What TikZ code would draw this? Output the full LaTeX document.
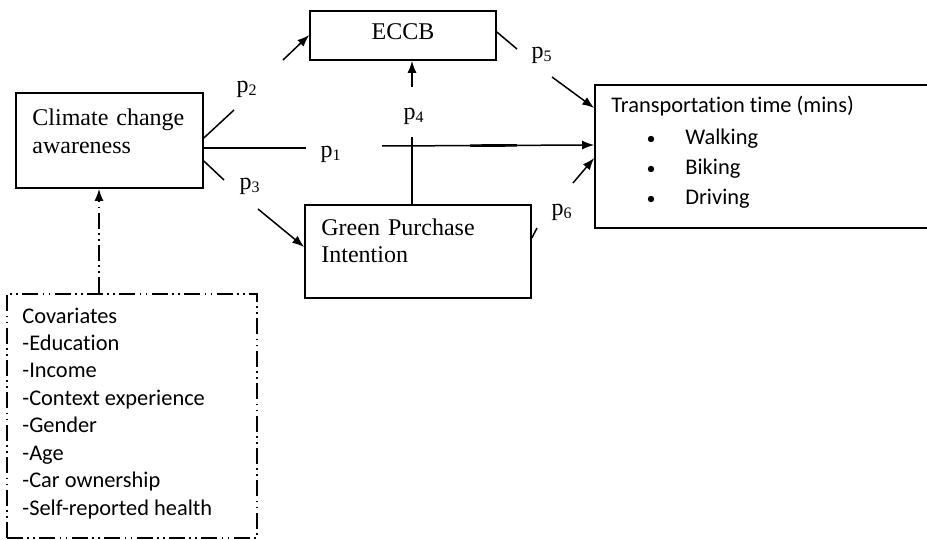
\documentclass[tikz,border=0pt]{standalone}
\usepackage{fontspec}
\setmainfont{Liberation Serif}
\newfontfamily\calibri[Ligatures=NoCommon]{Carlito}
\usetikzlibrary{arrows.meta,positioning,fit}

\begin{document}
\begin{tikzpicture}[x=0.5pt, y=-0.5pt,
  box/.style={draw, line width=0.8pt, inner sep=0pt},
  serif/.style={font=\fontsize{12}{13.8}\selectfont, inner sep=0pt},
  sans/.style={font=\calibri\fontsize{11.2}{13.7}\selectfont, inner sep=0pt},
  bullet/.style={circle, fill, inner sep=0pt, minimum size=3.2pt},
  link/.style={line width=0.75pt},
  arr/.style={link, -{Latex[length=6pt, width=4.5pt]}},
  dashdotdot/.style={dash pattern=on 8pt off 2.2pt on 0.8pt off 2.2pt on 0.8pt off 2.2pt}]

% Canvas
\useasboundingbox (0,0) rectangle (927,540);
\clip (0,0) rectangle (927,540);

% Boxes
\node[box, fit={(16,93) (203,188)}] (cca) {};
\node[box, fit={(310,11) (496,60)}] (eccb) {};
\node[box, fit={(305,205) (531,298)}] (gpi) {};
\node[box, fit={(595,85) (940,228)}] (trans) {};
\node[box, line width=0.6pt, dashdotdot, fit={(7,294) (257,538)}] (cov) {};

% Box texts
\node[serif, anchor=base] (eccbtext) at (403,40) {ECCB};
\node[serif, text width=4cm, align=left, anchor=base west] (ccatext) at (32,126) {Climate change\\awareness};
\node[serif, text width=4cm, align=left, anchor=base west] (gpitext) at (321,235) {Green Purchase\\Intention};
\node[sans, anchor=base west] (transtitle) at (611,113) {Transportation time (mins)};
\foreach \y/\mode in {145/Walking, 175/Biking, 205/Driving} {
  \node[bullet] (dot\mode) at (651,\y-6) {};
  \node[sans, anchor=base west] (\mode) at (685,\y) {\mode};
}
\foreach \t [count=\i from 0] in {Covariates, -Education, -Income, -Context experience, -Gender, -Age, -Car ownership, -Self-reported health}
  \node[sans, anchor=base west] (cov\i) at (22, 323+27.43*\i) {\t};

% Path labels
\node[serif] (p1) at (331,154) {p\textsubscript{1}};
\node[serif] (p2) at (247,89) {p\textsubscript{2}};
\node[serif] (p3) at (250,186) {p\textsubscript{3}};
\node[serif] (p4) at (414,116) {p\textsubscript{4}};
\node[serif] (p5) at (542,55) {p\textsubscript{5}};
\node[serif] (p6) at (562,212) {p\textsubscript{6}};

% p1
\coordinate (p1a) at (306,148);
\coordinate (p1b) at (382,146);
\draw[link] (cca.east |- 0,148) -- (p1a);
\draw[arr] (p1b) -- (trans.west |- 0,145);
\draw[line width=1.3pt] (cca.east |- 0,148) -- ++(21,0);
\draw[line width=1.3pt] (470,145.6) -- (517,145.4);

% p2
\coordinate (p2a) at (234,110);
\coordinate (p2b) at (283,60);
\draw[link] (cca.east |- 0,138) -- (p2a);
\draw[arr] (p2b) -- (eccb.west |- 0,35);

% p3
\coordinate (p3a) at (224,180);
\coordinate (p3b) at (258,209);
\draw[link] (cca.east |- 0,161) -- (p3a);
\draw[arr] (p3b) -- (gpi.west |- 0,247);

% p4
\coordinate (p4a) at (412,137);
\coordinate (p4b) at (412,87);
\draw[link] (gpi.north -| p4a) -- (p4a);
\draw[arr] (p4b) -- (eccb.south -| p4b);

% p5
\coordinate (p5a) at (517,49);
\coordinate (p5b) at (552,77);
\draw[link] (eccb.east |- 0,32) -- (p5a);
\draw[arr] (p5b) -- (trans.west |- 0,108);

% p6
\coordinate (p6a) at (537,228);
\coordinate (p6b) at (573,183);
\draw[link] (gpi.east |- 0,238) -- (p6a);
\draw[arr] (p6b) -- (trans.west |- 0,158);

% covariates
\draw[arr, dashdotdot, line width=0.9pt] (cov.north -| 99,0) -- (cca.south -| 99,0);
\end{tikzpicture}
\end{document}
